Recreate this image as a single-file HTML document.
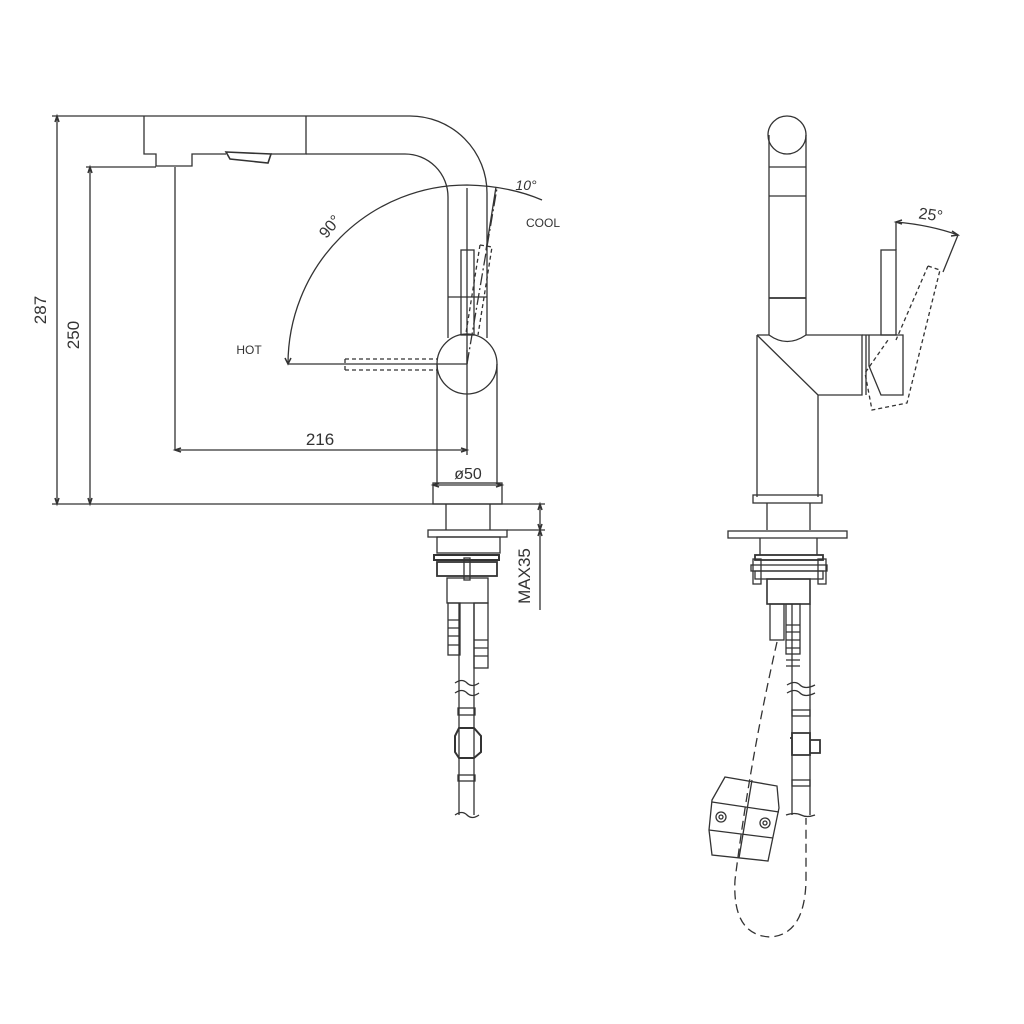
<!DOCTYPE html>
<html><head><meta charset="utf-8"><style>
html,body{margin:0;padding:0;background:#fff;}
svg{display:block;}
text{font-family:"Liberation Sans",sans-serif;fill:#333;}
</style></head><body>
<svg width="1024" height="1024" viewBox="0 0 1024 1024" xmlns="http://www.w3.org/2000/svg">
<g fill="none" stroke="#333" stroke-width="1.3">
<!-- LEFT VIEW: dimension lines -->
<line x1="52" y1="116" x2="144" y2="116"/>
<line x1="86" y1="167" x2="156" y2="167"/>
<line x1="52" y1="504" x2="545" y2="504"/>
<line x1="57" y1="116" x2="57" y2="504"/>
<line x1="90" y1="167" x2="90" y2="504"/>
<path d="M55,122 L57,116 L59,122 M55,498 L57,504 L59,498 M88,173 L90,167 L92,173 M88,498 L90,504 L92,498" stroke-width="1.5"/>
<!-- head -->
<path d="M144,116 H306 M144,116 V154 H156 V166 H192 V154 H226 M271,154 H306 V116"/>
<path d="M226,152 L271,154 L268,163 L230,159 Z" stroke-width="1.6"/>
<!-- spout -->
<path d="M306,116 H410 A77,77 0 0 1 487,193 V338"/>
<path d="M306,154 H405 A43,43 0 0 1 448,197 V338"/>
<line x1="448" y1="297" x2="487" y2="297"/>
<rect x="461" y="250" width="13" height="85"/>
<circle cx="467" cy="364" r="30"/>
<line x1="437" y1="364" x2="437" y2="483"/>
<line x1="497" y1="364" x2="497" y2="483"/>
<line x1="467" y1="188" x2="467" y2="364"/>
<line x1="467" y1="350" x2="467" y2="388"/>
<!-- dashed handles -->
<g stroke-dasharray="4,3">
<path d="M345,359 H437 M345,370 H437 M345,359 V370"/>
<path d="M480,245 L492,247 L478,335 M480,245 L466,333"/>
</g>
<line x1="467" y1="364" x2="497" y2="188" stroke-dasharray="12,3,2,3"/>
<!-- 90 deg arc -->
<path d="M288,364 A179,179 0 0 1 467,185 Q510,186 542,200"/>
<line x1="288" y1="364" x2="467" y2="364"/>
<path d="M285,358 L288,364 L291,358" stroke-width="1.5"/>
<line x1="496" y1="187" x2="486" y2="250"/>
<!-- 216 dim -->
<line x1="175" y1="167" x2="175" y2="450"/>
<line x1="175" y1="450" x2="467" y2="450"/>
<line x1="467" y1="388" x2="467" y2="455"/>
<path d="M181,448 L175,450 L181,452 M461,448 L467,450 L461,452" stroke-width="1.5"/>
<!-- phi50 dim -->
<line x1="433" y1="485" x2="502" y2="485"/>
<path d="M439,483 L433,485 L439,487 M496,483 L502,485 L496,487" stroke-width="1.5"/>
<rect x="433" y="483" width="69" height="21"/>
<!-- under-counter -->
<line x1="446" y1="504" x2="446" y2="530"/><line x1="490" y1="504" x2="490" y2="530"/>
<rect x="428" y="530" width="79" height="7"/>
<rect x="437" y="537" width="63" height="16"/>
<rect x="434" y="555" width="65" height="5" stroke-width="2"/>
<rect x="437" y="562" width="60" height="14" stroke-width="1.8"/>
<rect x="464" y="558" width="6" height="22"/>
<rect x="447" y="578" width="41" height="25"/>
<rect x="448" y="603" width="12" height="52"/>
<path d="M448,620 H460 M448,628 H460 M448,636 H460 M448,645 H460"/>
<rect x="474" y="603" width="14" height="65"/>
<path d="M474,640 H488 M474,648 H488 M474,656 H488"/>
<line x1="459" y1="603" x2="459" y2="815"/><line x1="474" y1="603" x2="474" y2="815"/>
<path d="M455,683 Q462,678 467,683 T479,683 M455,693 Q462,688 467,693 T479,693"/>
<rect x="458" y="708" width="17" height="7"/>
<path d="M459,728 H474 L481,736 V752 L474,758 H459 L455,752 V736 Z" stroke-width="2"/>
<rect x="458" y="775" width="17" height="6"/>
<path d="M455,815 Q462,810 467,815 T479,815"/>
<!-- MAX35 -->
<line x1="507" y1="530" x2="545" y2="530"/>
<line x1="540" y1="504" x2="540" y2="610"/>
<path d="M538,510 L540,504 L542,510 M538,524 L540,530 L542,524 M538,536 L540,530 L542,536" stroke-width="1.5"/>

<!-- RIGHT VIEW -->
<circle cx="787" cy="135" r="19"/>
<line x1="769" y1="135" x2="769" y2="335"/><line x1="806" y1="135" x2="806" y2="335"/>
<line x1="769" y1="167" x2="806" y2="167"/>
<line x1="769" y1="196" x2="806" y2="196"/>
<line x1="769" y1="298" x2="806" y2="298" stroke-width="1.8"/>
<path d="M757,335 H769 Q787,348 806,335 H862 V395 H818 V497 M757,335 V497 M757,335 L818,395"/>
<path d="M862,335 H903 V395 H881 L869,366 V335 M866,335 V395"/>
<rect x="881" y="250" width="15" height="85"/>
<g stroke-dasharray="4,3">
<path d="M928,266 L940,270 L907,403 L872,410 L865,373 L888,340 M928,266 L896,340"/>
</g>
<!-- 25 deg -->
<line x1="896" y1="222" x2="896" y2="250"/>
<path d="M896,222 Q930,225 958,235"/>
<line x1="958" y1="235" x2="943" y2="272"/>
<path d="M902,220 L896,222 L902,224 M952,231 L958,235 L951,236" stroke-width="1.5"/>
<!-- right base -->
<rect x="753" y="495" width="69" height="8"/>
<line x1="767" y1="503" x2="767" y2="530"/><line x1="810" y1="503" x2="810" y2="530"/>
<rect x="728" y="531" width="119" height="7"/>
<line x1="760" y1="538" x2="760" y2="555"/><line x1="817" y1="538" x2="817" y2="555"/>
<rect x="755" y="555" width="68" height="5" stroke-width="1.8"/>
<rect x="751" y="565" width="76" height="6"/>
<rect x="755" y="571" width="68" height="8"/>
<rect x="753" y="559" width="8" height="25"/><rect x="818" y="559" width="8" height="25"/>
<rect x="767" y="579" width="43" height="25" stroke-width="1.6"/>
<rect x="770" y="604" width="14" height="36"/>
<rect x="786" y="604" width="14" height="50"/>
<path d="M786,625 H800 M786,632 H800 M786,640 H800 M786,648 H800 M786,660 H800 M786,666 H800"/>
<line x1="792" y1="604" x2="792" y2="815"/><line x1="810" y1="604" x2="810" y2="815"/>
<path d="M787,685 Q795,680 800,685 T815,685 M787,693 Q795,688 800,693 T815,693"/>
<rect x="792" y="710" width="18" height="6"/>
<path d="M792,733 H810 V755 H792 Z M790,738 H792 M810,740 H820 V753 H810" stroke-width="1.8"/>
<rect x="792" y="780" width="18" height="6"/>
<path d="M786,815 Q795,812 801,815 T815,815"/>
<!-- mounting plate -->
<path d="M725,777 L777,786 L779,808 L768,861 L712,855 L709,830 L712,800 Z"/>
<path d="M712,802 L779,812 M709,830 L773,838 M752,780 L739,858"/>
<circle cx="721" cy="817" r="5"/><circle cx="721" cy="817" r="2"/>
<circle cx="765" cy="823" r="5"/><circle cx="765" cy="823" r="2"/>
<!-- dashed hose -->
<path d="M777,642 Q750,760 735,880 Q732,935 770,937 Q805,935 806,880 L806,818" stroke-dasharray="9,5"/>
</g>
<!-- texts -->
<text x="46" y="310" font-size="17" text-anchor="middle" transform="rotate(-90 46 310)">287</text>
<text x="79" y="335" font-size="17" text-anchor="middle" transform="rotate(-90 79 335)">250</text>
<text x="320" y="445" font-size="17" text-anchor="middle">216</text>
<text x="468" y="479" font-size="16" text-anchor="middle">ø50</text>
<text x="249" y="354" font-size="12" text-anchor="middle">HOT</text>
<text x="543" y="227" font-size="12" text-anchor="middle">COOL</text>
<text x="334" y="230" font-size="16" text-anchor="middle" transform="rotate(-50 334 230)">90°</text>
<text x="526" y="190" font-size="14" font-style="italic" text-anchor="middle">10°</text>
<text x="530" y="576" font-size="17" text-anchor="middle" transform="rotate(-90 530 576)">MAX35</text>
<text x="930" y="220" font-size="16" text-anchor="middle" transform="rotate(8 930 220)">25°</text>
</svg>
</body></html>
